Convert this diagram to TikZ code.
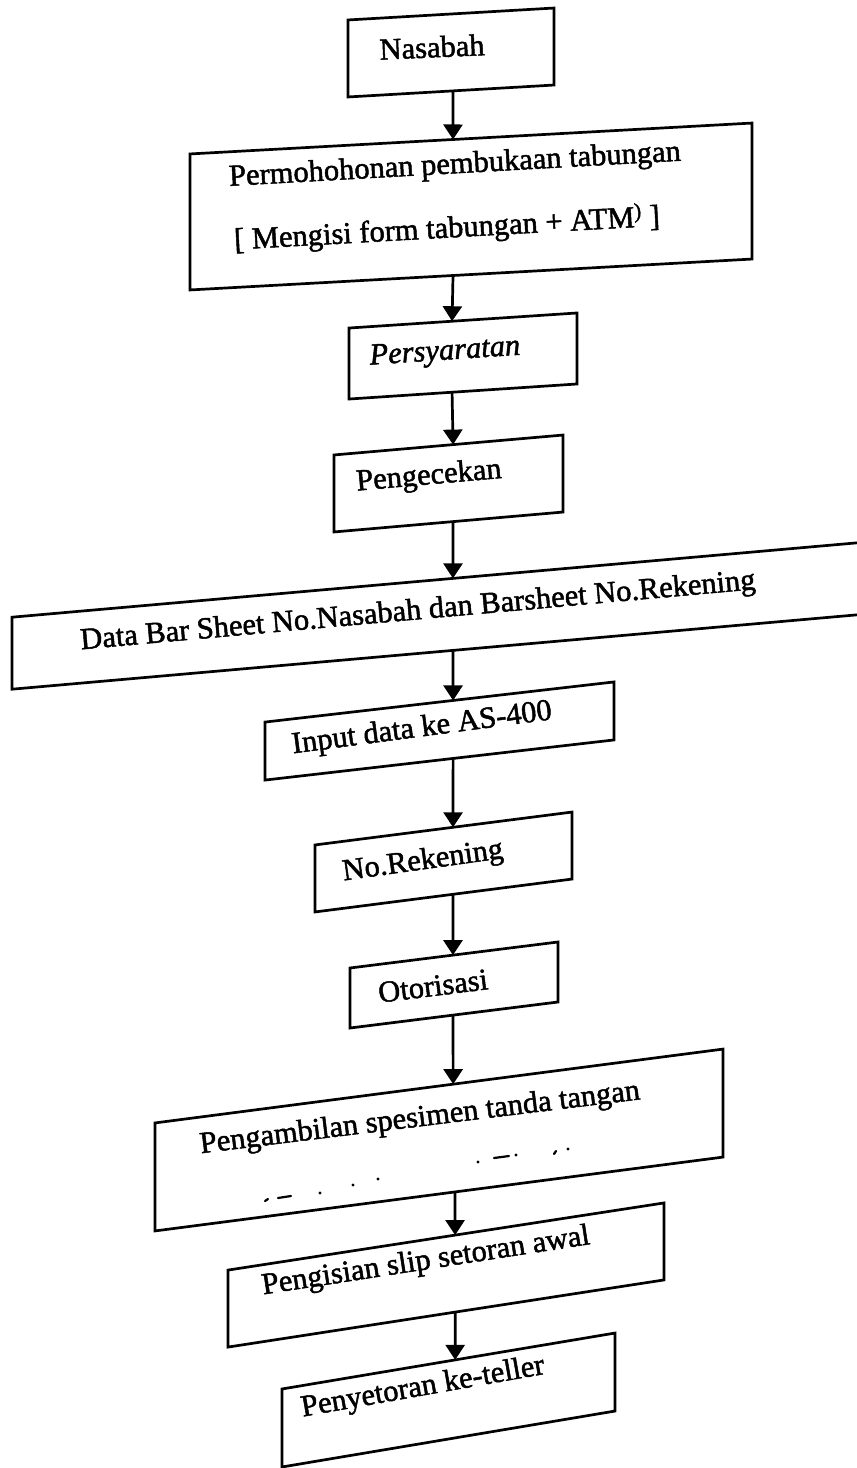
\documentclass[tikz,border=0pt]{standalone}
\usepackage{fontspec}
\newfontfamily\scan{Liberation Serif}[BoldFont={Liberation Serif}, BoldFeatures={FakeBold=1.6}, BoldItalicFont={Liberation Serif Italic}, BoldItalicFeatures={FakeBold=1.6}]
\usetikzlibrary{calc,arrows.meta}
\begin{document}
\begin{tikzpicture}[x=1pt,y=-1pt,
  box/.style={draw, line width=2.7pt, inner sep=0pt, outer sep=0pt},
  lbl/.style={inner sep=0pt, font=\scan\bfseries\fontsize{30.5}{35}\selectfont},
  arr/.style={line width=2.7pt, -{Triangle[width=19pt,length=15pt]}},
  frag/.style={line width=2.2pt, line cap=round}]
\useasboundingbox (0,0) rectangle (857,1468);
\clip (0,0) rectangle (857,1468);
\fill[white] (0,0) rectangle (857,1468);

% boxes
\node[box, minimum width=206pt, minimum height=77pt, yslant=0.058] (n1) at (451,52.5) {};
\node[box, minimum width=562pt, minimum height=136pt, yslant=0.055] (n2) at (471,206.5) {};
\node[box, minimum width=228pt, minimum height=71pt, yslant=0.066] (n3) at (463,356) {};
\node[box, minimum width=229pt, minimum height=77pt, yslant=0.087] (n4) at (448.5,483.5) {};
\node[box, minimum width=868pt, minimum height=72pt, yslant=0.088] (n5) at (446,615) {};
\node[box, minimum width=349pt, minimum height=58pt, yslant=0.115] (n6) at (439.5,731) {};
\node[box, minimum width=257pt, minimum height=67pt, yslant=0.128] (n7) at (443.5,862) {};
\node[box, minimum width=208pt, minimum height=60pt, yslant=0.125] (n8) at (454,985) {};
\node[box, minimum width=568pt, minimum height=108pt, yslant=0.13] (n9) at (439,1140) {};
\node[box, minimum width=436pt, minimum height=77pt, yslant=0.154] (n10) at (446,1275) {};
\node[box, minimum width=333pt, minimum height=78pt, yslant=0.168] (n11) at (448.5,1400) {};

% texts
\node[lbl, rotate=2.5] (t1) at (432,47) {Nasabah};
\node[lbl, rotate=3.2] (t2a) at (455,166) {Permohohonan pembukaan tabungan};
\node[lbl, rotate=3.2] (t2b) at (447,229) {[ Mengisi form tabungan + ATM\textsuperscript{)} ]};
\node[lbl, rotate=3.8, font=\scan\bfseries\itshape\fontsize{30.5}{35}\selectfont] (t3) at (445,353) {Persyaratan};
\node[lbl, rotate=5] (t4) at (429,477) {Pengecekan};
\node[lbl, rotate=5.1] (t5) at (418,612) {Data Bar Sheet No.Nasabah dan Barsheet No.Rekening};
\node[lbl, rotate=7.5] (t6) at (422,729) {Input data ke AS-400};
\node[lbl, rotate=8] (t7) at (423,862) {No.Rekening};
\node[lbl, rotate=7.1] (t8) at (433,986) {Otorisasi};
\node[lbl, rotate=7] (t9) at (420,1119) {Pengambilan spesimen tanda tangan};
\node[lbl, rotate=8.75] (t10) at (426,1262) {Pengisian slip setoran awal};
\node[lbl, rotate=10] (t11) at (423,1388) {Penyetoran ke-teller};

% faded second line fragments
\fill (478,1162) circle (1.6pt);
\draw[frag] (494,1158) -- (509,1156);
\fill (516,1155) circle (1.6pt);
\draw[frag] (554,1154) -- (556,1151);
\fill (568,1149) circle (1.6pt);
\draw[frag] (265,1201) -- (268,1199);
\draw[frag] (278,1198) -- (291,1196);
\fill (320,1193) circle (1.6pt);
\fill (353,1185) circle (1.6pt);
\fill (378,1179) circle (1.6pt);

% connectors
\draw[arr] ($(n1.south west)!0.510!(n1.south east)$) -- ($(n2.north west)!0.468!(n2.north east)$);
\draw[arr] ($(n2.south west)!0.468!(n2.south east)$) -- ($(n3.north west)!0.452!(n3.north east)$);
\draw[arr] ($(n3.south west)!0.452!(n3.south east)$) -- ($(n4.north west)!0.520!(n4.north east)$);
\draw[arr] ($(n4.south west)!0.520!(n4.south east)$) -- ($(n5.north west)!0.508!(n5.north east)$);
\draw[arr] ($(n5.south west)!0.508!(n5.south east)$) -- ($(n6.north west)!0.539!(n6.north east)$);
\draw[arr] ($(n6.south west)!0.539!(n6.south east)$) -- ($(n7.north west)!0.537!(n7.north east)$);
\draw[arr] ($(n7.south west)!0.537!(n7.south east)$) -- ($(n8.north west)!0.495!(n8.north east)$);
\draw[arr] ($(n8.south west)!0.495!(n8.south east)$) -- ($(n9.north west)!0.525!(n9.north east)$);
\draw[arr] ($(n9.south west)!0.528!(n9.south east)$) -- ($(n10.north west)!0.521!(n10.north east)$);
\draw[arr] ($(n10.south west)!0.521!(n10.south east)$) -- ($(n11.north west)!0.520!(n11.north east)$);
\end{tikzpicture}
\end{document}
